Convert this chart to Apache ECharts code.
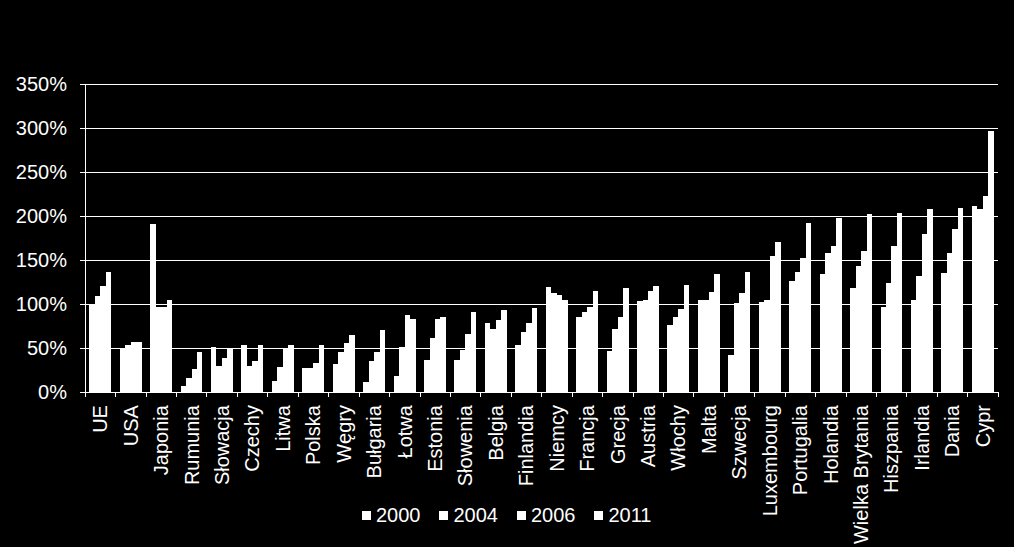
<!DOCTYPE html>
<html>
<head>
<meta charset="utf-8">
<script src="https://cdn.jsdelivr.net/npm/echarts@6/dist/echarts.min.js"></script>
<style>
html,body{margin:0;padding:0;background:#000;}
#chart{width:1014px;height:547px;}
#chart svg path{shape-rendering:crispEdges;}
</style>
</head>
<body>
<div id="chart"></div>
<script>
const categories = ['UE','USA','Japonia','Rumunia','Słowacja','Czechy','Litwa','Polska','Węgry','Bułgaria','Łotwa','Estonia','Słowenia','Belgia','Finlandia','Niemcy','Francja','Grecja','Austria','Włochy','Malta','Szwecja','Luxembourg','Portugalia','Holandia','Wielka Brytania','Hiszpania','Irlandia','Dania','Cypr'];
const s2000 = [100,50,191,7,51,53,13,27,32,12,18,36,36,78,53,119,85,47,103,76,105,42,102,126,134,118,97,105,135,211];
const s2004 = [109,53,97,16,30,30,29,27,45,35,51,61,48,72,68,113,91,72,105,85,105,101,105,136,158,143,124,132,158,208];
const s2006 = [121,57,97,26,39,35,50,33,56,45,88,83,66,82,79,110,97,85,115,94,114,113,155,152,166,160,166,180,185,223];
const s2011 = [136,57,105,45,49,53,53,54,65,71,83,85,91,93,96,105,115,118,120,122,134,136,170,192,198,202,203,208,209,297];
const seriesNames = ['2000','2004','2006','2011'];
const yTicks = [0,50,100,150,200,250,300,350];

const font = 'Liberation Sans, Arial, sans-serif';
const chart = echarts.init(document.getElementById('chart'), null, {renderer: 'svg'});
const dataSets = [s2000, s2004, s2006, s2011];
chart.setOption({
  backgroundColor: '#000',
  animation: false,
  grid: {left: 85, right: 16, top: 84, bottom: 154, containLabel: false},
  legend: {
    data: seriesNames,
    bottom: 17,
    left: 357,
    icon: 'rect',
    itemWidth: 9,
    itemHeight: 9,
    itemGap: 19,
    textStyle: {color: '#fff', fontSize: 20, fontFamily: font}
  },
  xAxis: {
    type: 'category',
    data: categories,
    axisLine: {lineStyle: {color: '#fff', width: 1}},
    axisTick: {show: true, alignWithLabel: false, length: 5, lineStyle: {color: '#fff'}},
    axisLabel: {interval: 0, rotate: 90, color: '#fff', fontSize: 20, fontFamily: font, margin: 13}
  },
  yAxis: {
    type: 'value',
    min: yTicks[0],
    max: yTicks[yTicks.length - 1],
    interval: 50,
    axisLine: {show: true, lineStyle: {color: '#fff', width: 1}},
    axisTick: {show: true, length: 5, lineStyle: {color: '#fff'}},
    splitLine: {show: true, lineStyle: {color: '#fff', width: 1}},
    axisLabel: {color: '#fff', fontSize: 20, fontFamily: font, margin: 18, formatter: v => v + '%'}
  },
  series: seriesNames.map((n, i) => ({
    name: n,
    type: 'bar',
    data: dataSets[i],
    barGap: '0%',
    barCategoryGap: '28%',
    itemStyle: {color: '#fff'}
  }))
});
</script>
</body>
</html>
